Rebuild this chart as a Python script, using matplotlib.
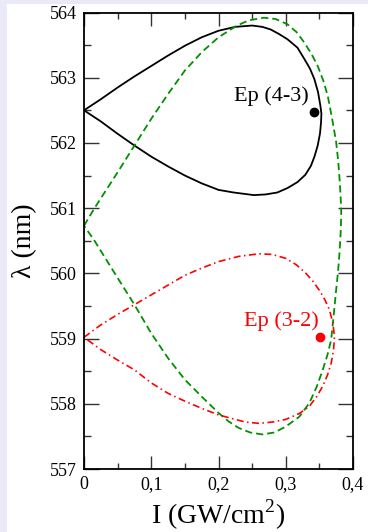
import matplotlib
matplotlib.use("Agg")
import matplotlib.pyplot as plt
from matplotlib.patches import Rectangle
from matplotlib.ticker import MultipleLocator, FuncFormatter

# ---- data ----
black_x = [0, 0.025, 0.05, 0.075, 0.1, 0.125, 0.15, 0.175, 0.2, 0.225, 0.25, 0.265,
           0.2775, 0.29, 0.3025, 0.3175, 0.3275, 0.336, 0.3425, 0.348, 0.3515, 0.353,
           0.3525, 0.351, 0.3475, 0.343, 0.3375, 0.329, 0.3175, 0.303, 0.2875, 0.27,
           0.2525, 0.2225, 0.2, 0.175, 0.15, 0.125, 0.1, 0.075, 0.05, 0.025, 0]
black_y = [562.5, 562.67, 562.85, 563.02, 563.18, 563.34, 563.49, 563.62, 563.72, 563.78,
           563.8, 563.78, 563.74, 563.67, 563.59, 563.46, 563.29, 563.14, 562.98, 562.78,
           562.57, 562.45, 562.32, 562.15, 561.96, 561.8, 561.65, 561.51, 561.4, 561.31,
           561.24, 561.21, 561.2, 561.24, 561.28, 561.38, 561.5, 561.64, 561.79, 561.96,
           562.14, 562.33, 562.5]

green_x = [0, 0.015, 0.05, 0.075, 0.1, 0.125, 0.15, 0.175, 0.2, 0.2275, 0.245, 0.2675,
           0.285, 0.3025, 0.316, 0.3275, 0.338, 0.3475, 0.356, 0.3625, 0.369, 0.375, 0.378,
           0.38, 0.3815, 0.3825, 0.382, 0.381, 0.3795, 0.3775, 0.375, 0.3725, 0.37, 0.3675,
           0.362, 0.355, 0.346, 0.335, 0.32, 0.3, 0.283, 0.265, 0.247, 0.23, 0.215, 0.2,
           0.175, 0.15, 0.125, 0.1, 0.075, 0.05, 0.015, 0]
green_y = [560.73, 560.99, 561.55, 561.96, 562.37, 562.75, 563.11, 563.39, 563.62, 563.8,
           563.88, 563.92, 563.9, 563.82, 563.7, 563.54, 563.37, 563.18, 562.95, 562.72,
           562.37, 562.01, 561.72, 561.45, 561.2, 560.94, 560.7, 560.5, 560.25, 560.0,
           559.75, 559.49, 559.23, 558.98, 558.75, 558.52, 558.26, 558.01, 557.8, 557.65,
           557.56, 557.53, 557.56, 557.63, 557.73, 557.86, 558.11, 558.37, 558.7, 559.08,
           559.52, 559.93, 560.51, 560.73]

red_x = [0, 0.025, 0.05, 0.075, 0.1, 0.125, 0.15, 0.175, 0.2, 0.23, 0.26, 0.28, 0.3,
         0.316, 0.33, 0.341, 0.35, 0.358, 0.365, 0.37, 0.3725, 0.371, 0.3675, 0.362,
         0.355, 0.346, 0.335, 0.32, 0.3, 0.28, 0.26, 0.24, 0.225, 0.2, 0.175, 0.15,
         0.125, 0.1, 0.075, 0.05, 0.025, 0]
red_y = [559.02, 559.21, 559.37, 559.52, 559.67, 559.82, 559.97, 560.08, 560.18, 560.26,
         560.3, 560.29, 560.23, 560.13, 560.0, 559.87, 559.74, 559.6, 559.44, 559.24,
         559.03, 558.82, 558.62, 558.44, 558.27, 558.11, 557.96, 557.85, 557.76, 557.72,
         557.7, 557.72, 557.76, 557.83, 557.93, 558.04, 558.16, 558.32, 558.52, 558.67,
         558.83, 559.02]

ep_labels = ["Ep (4-3)", "Ep (3-2)"]
ep_x = [0.3425, 0.3515]
ep_y = [562.47, 559.02]
ep_colors = ["black", "#ff0000"]

x_ticks = [0, 0.1, 0.2, 0.3, 0.4]
y_ticks = [557, 558, 559, 560, 561, 562, 563, 564]

# ---- figure ----
plt.rcParams['font.family'] = ['Liberation Serif', 'DejaVu Serif']
plt.rcParams['mathtext.fontset'] = 'custom'
plt.rcParams['mathtext.rm'] = 'Liberation Serif'

fig = plt.figure(figsize=(3.68, 5.32), dpi=100)
fig.patch.set_facecolor('#e9e9f7')
fig.patches.append(Rectangle((7 / 368, 0), 1, 1 - 4 / 532, transform=fig.transFigure,
                             facecolor='white', edgecolor='none', zorder=-10))

ax = fig.add_axes([84 / 368, 1 - 469 / 532, (353 - 84) / 368, (469 - 12.5) / 532])
ax.set_facecolor('white')

ax.plot(black_x, black_y, color='black', lw=1.3, solid_joinstyle='round')
ax.plot(green_x, green_y, color='#009000', lw=1.3, linestyle=(0, (4, 2.2)))
ax.plot(red_x, red_y, color='#ff0000', lw=1.2, linestyle=(0, (4.2, 2.1, 0.9, 2.1)))

for lab, x, y, c in zip(ep_labels, ep_x, ep_y, ep_colors):
    ax.plot([x], [y], 'o', color=c, ms=6)
ax.text(0.3346, 562.72, ep_labels[0], color=ep_colors[0], fontsize=16,
        ha='right', va='center')
ax.text(0.349, 559.26, ep_labels[1], color=ep_colors[1], fontsize=16,
        ha='right', va='center')

ax.set_xlim(0, 0.4)
ax.set_ylim(557, 564)
ax.set_xticks(x_ticks)
ax.set_yticks(y_ticks)
ax.xaxis.set_minor_locator(MultipleLocator(0.05))
ax.yaxis.set_minor_locator(MultipleLocator(0.5))
ax.xaxis.set_major_formatter(FuncFormatter(lambda v, p: '0' if abs(v) < 1e-9 else f'{v:.1f}'.replace('.', ',')))
ax.yaxis.set_major_formatter(FuncFormatter(lambda v, p: f'{int(round(v))}'))

ax.tick_params(axis='both', which='both', direction='in', top=True, right=True,
               color='#333333', width=1.0, labelsize=13)
ax.tick_params(axis='y', which='major', length=11, pad=5)
ax.tick_params(axis='y', which='minor', length=5)
ax.tick_params(axis='x', which='major', length=9.5, pad=5)
ax.tick_params(axis='x', which='minor', length=4.5)
for s in ax.spines.values():
    s.set_linewidth(1.3)

ax.set_xlabel('I (GW/cm$^{2}$)', fontsize=20)
ax.set_ylabel('λ (nm)', fontsize=20)
ax.xaxis.set_label_coords(0.5, -0.062)
ax.yaxis.set_label_coords(-0.175, 0.5)

fig.savefig('out.png', dpi=100, facecolor=fig.get_facecolor())
